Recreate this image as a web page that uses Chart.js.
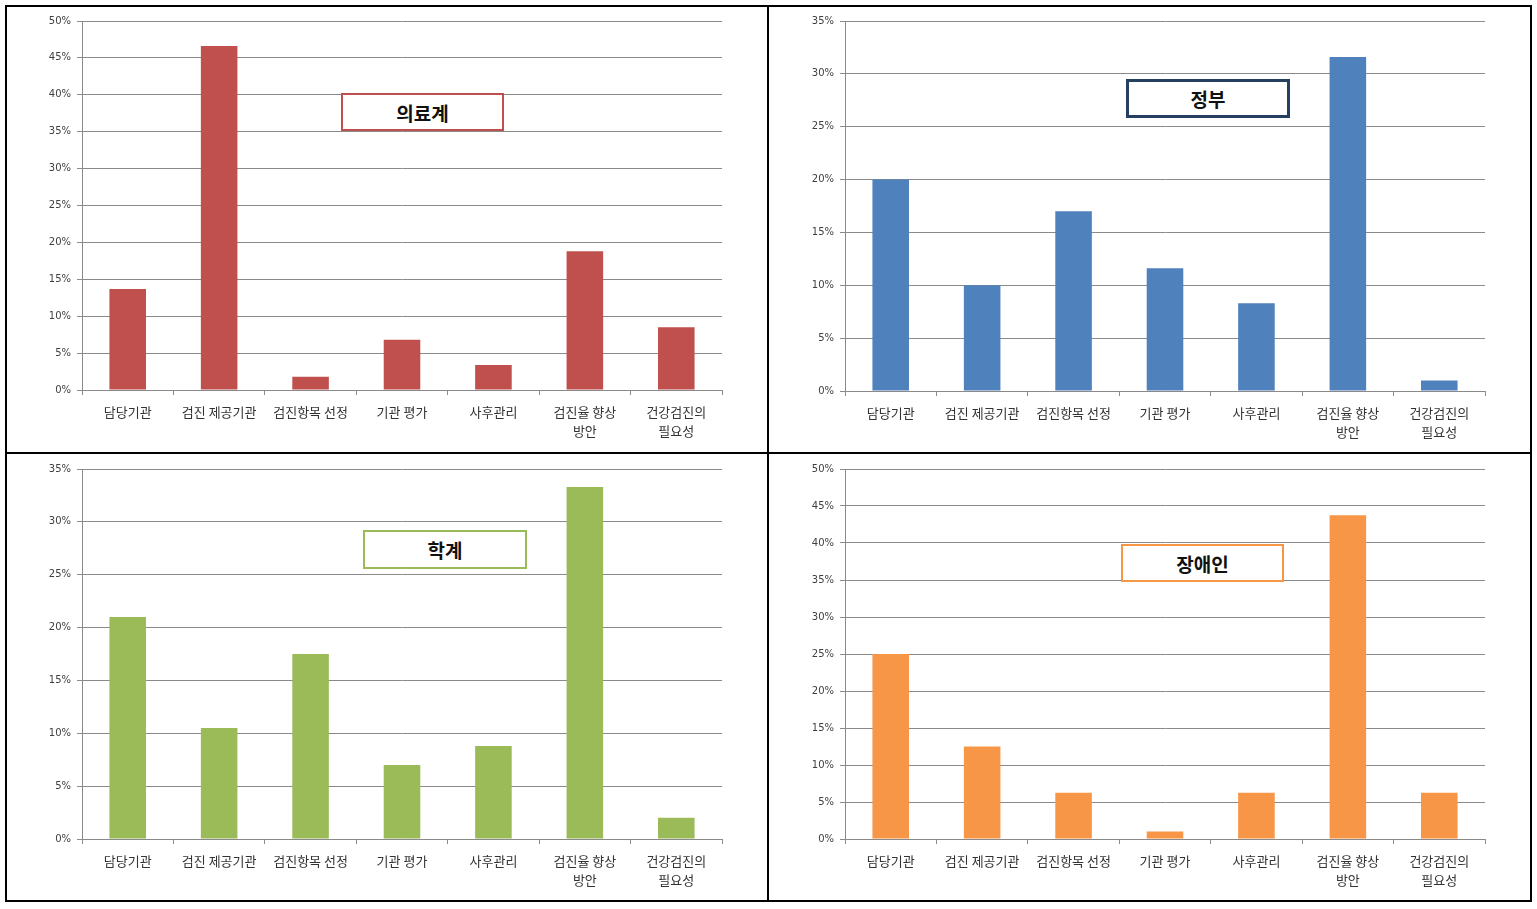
<!DOCTYPE html>
<html>
<head>
<meta charset="utf-8">
<script src="https://cdn.jsdelivr.net/npm/chart.js@4.4.1/dist/chart.umd.min.js"></script>
<style>
  html, body { margin: 0; padding: 0; background: #fff; }
  body { width: 1537px; height: 909px; position: relative; overflow: hidden; }
  .frame { position: absolute; background: #000; }
  .panel { position: absolute; }
  .tag {
    position: absolute; box-sizing: border-box; background: #fff;
    border: 2px solid #000; display: flex; align-items: center; justify-content: center;
    font-family: "Noto Sans CJK KR", sans-serif; font-weight: bold; font-size: 19px; color: #111;
  }
</style>
</head>
<body>
<!-- outer frame and dividers -->
<div class="frame" style="left:5px;top:5px;width:1527px;height:2px"></div>
<div class="frame" style="left:5px;top:900px;width:1527px;height:2px"></div>
<div class="frame" style="left:5px;top:5px;width:2px;height:897px"></div>
<div class="frame" style="left:1530px;top:5px;width:2px;height:897px"></div>
<div class="frame" style="left:767px;top:5px;width:2px;height:897px"></div>
<div class="frame" style="left:5px;top:452px;width:1527px;height:2px"></div>

<div class="panel" style="left:7px;top:7px;width:760px;height:445px"><canvas id="c1"></canvas></div>
<div class="panel" style="left:770px;top:7px;width:760px;height:445px"><canvas id="c2"></canvas></div>
<div class="panel" style="left:7px;top:455px;width:760px;height:445px"><canvas id="c3"></canvas></div>
<div class="panel" style="left:770px;top:455px;width:760px;height:445px"><canvas id="c4"></canvas></div>

<div class="tag" style="left:341px;top:93px;width:163px;height:38px;border-color:#C0504D">의료계</div>
<div class="tag" style="left:1126px;top:79px;width:164px;height:39px;border-color:#243F60;border-width:3px">정부</div>
<div class="tag" style="left:363px;top:530px;width:164px;height:39px;border-color:#9BBB59">학계</div>
<div class="tag" style="left:1121px;top:544px;width:163px;height:38px;border-color:#F79646">장애인</div>

<script>
const categories = ['담당기관', '검진 제공기관', '검진항목 선정', '기관 평가', '사후관리', ['검진율 향상', '방안'], ['건강검진의', '필요성']];

// 응답 비율 (%)
const medicalValues = [13.7, 46.6, 1.8, 6.8, 3.4, 18.8, 8.5];
const governmentValues = [20.0, 10.0, 17.0, 11.6, 8.3, 31.6, 1.0];
const academicValues = [21.0, 10.5, 17.5, 7.0, 8.8, 33.3, 2.0];
const disabledValues = [25.0, 12.5, 6.25, 1.0, 6.25, 43.75, 6.25];

const gridColor = '#8a8a8a';

function drawPanel(id, values, color, yMax, xHeight) {
  const ctx = document.getElementById(id).getContext('2d');
  return new Chart(ctx, {
    type: 'bar',
    data: {
      labels: categories,
      datasets: [{
        data: values,
        backgroundColor: color,
        borderWidth: 0,
        barPercentage: 0.4,
        categoryPercentage: 1.0,
      }],
    },
    options: {
      responsive: true,
      maintainAspectRatio: false,
      animation: false,
      layout: { padding: { top: 14, right: 45, left: 0, bottom: 0 } },
      plugins: { legend: { display: false }, tooltip: { enabled: false } },
      scales: {
        x: {
          offset: true,
          grid: { offset: true, drawOnChartArea: false, drawTicks: true, tickLength: 5, color: gridColor },
          border: { color: gridColor, width: 1 },
          ticks: {
            color: '#333',
            padding: 7,
            maxRotation: 0,
            autoSkip: false,
            font: { family: '"Noto Sans CJK KR", sans-serif', size: 13, lineHeight: 1.5 },
          },
          afterFit: (s) => { s.height = xHeight; },
        },
        y: {
          min: 0,
          max: yMax,
          grid: { color: gridColor, tickLength: 5 },
          border: { color: gridColor, width: 1 },
          ticks: {
            stepSize: 5,
            color: '#404040',
            padding: 6,
            font: { family: '"DejaVu Sans", sans-serif', size: 10 },
            callback: (v) => v + '%',
          },
          afterFit: (s) => { s.width = 75; },
        },
      },
    },
  });
}

drawPanel('c1', medicalValues, '#C0504D', 50, 62);
drawPanel('c2', governmentValues, '#4F81BD', 35, 61);
drawPanel('c3', academicValues, '#9BBB59', 35, 61);
drawPanel('c4', disabledValues, '#F79646', 50, 61);
</script>
</body>
</html>
